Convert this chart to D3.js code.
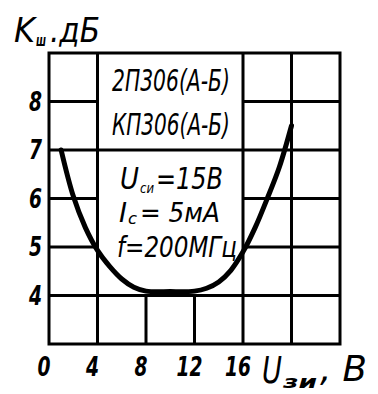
<!DOCTYPE html>
<html>
<head>
<meta charset="utf-8">
<script src="https://cdn.jsdelivr.net/npm/d3@7"></script>
<style>
  body { margin: 0; background: #fff; }
  text { font-family: "DejaVu Sans", sans-serif; font-style: italic; font-weight: bold; fill: #000; }
</style>
</head>
<body>
<div id="chart"></div>
<script>
// data
var xTicks = [0, 4, 8, 12, 16];
var yTicks = [4, 5, 6, 7, 8];
var curveU = [1, 2, 3, 4, 5, 6, 7, 8, 10, 12, 13, 14, 15, 16, 17, 18, 19, 20];
var curveK = [7.0, 6.05, 5.4, 4.93, 4.6, 4.34, 4.17, 4.09, 4.08, 4.09, 4.15, 4.28, 4.52, 4.9, 5.4, 6.0, 6.65, 7.5];
var boxLines = ["2П306(А-Б)", "КП306(А-Б)"];

var W = 378, H = 394;
var svg = d3.select("#chart").append("svg").attr("width", W).attr("height", H);

var x = d3.scaleLinear().domain([0, 24]).range([49, 340]);
var y = d3.scaleLinear().domain([3, 9]).range([344, 53]);

// grid: some lines stop at the white label box (U 4..16, K 4..9)
var grid = svg.append("g").attr("stroke", "#000").attr("stroke-width", 3);
var vSeg = [[4, 3, 9], [16, 3, 9], [20, 3, 9], [8, 3, 4], [12, 3, 4]];
vSeg.forEach(function (s) {
  grid.append("line").attr("x1", x(s[0])).attr("x2", x(s[0])).attr("y1", y(s[1])).attr("y2", y(s[2]));
});
var hSeg = [[4, 0, 24], [7, 0, 24], [5, 0, 4], [5, 16, 24], [6, 0, 4], [6, 16, 24], [8, 0, 4], [8, 16, 24]];
hSeg.forEach(function (s) {
  grid.append("line").attr("y1", y(s[0])).attr("y2", y(s[0])).attr("x1", x(s[1])).attr("x2", x(s[2]));
});
grid.append("rect")
  .attr("x", x(0)).attr("y", y(9))
  .attr("width", x(24) - x(0)).attr("height", y(3) - y(9))
  .attr("fill", "none");

// curve
var pts = curveU.map(function (u, i) { return [u, curveK[i]]; });
var line = d3.line().x(function (d) { return x(d[0]); }).y(function (d) { return y(d[1]); }).curve(d3.curveCatmullRom);
svg.append("path").datum(pts).attr("d", line)
  .attr("fill", "none").attr("stroke", "#000").attr("stroke-width", 5).attr("stroke-linecap", "round");

// text squeezed horizontally to a given width (hand lettering is narrow)
function piece(tx, ty, size, len, str, weight, anchor) {
  var t = svg.append("text")
    .style("font-size", size + "px").style("font-weight", weight || "normal")
    .attr("text-anchor", anchor || "start")
    .text(str);
  var w = t.node().getComputedTextLength();
  t.attr("transform", "translate(" + tx + "," + ty + ") scale(" + (len / w) + ",1)");
  return t;
}

// tick labels
yTicks.forEach(function (d) {
  piece(42, y(d) + 9, 26, 13, String(d), "bold", "end");
});
xTicks.forEach(function (d) {
  piece(x(d) - 5, 376, 26, String(d).length * 13, String(d), "bold", "middle");
});

// axis titles
piece(14, 42, 34, 21, "K");
piece(36, 46, 16, 10, "ш", "bold");
piece(50, 42, 34, 50, ".дБ");

piece(262, 383, 38, 20, "U");
piece(283, 388, 17, 34, "зи", "bold");
piece(320, 381, 36, 47, ", В");

// label box text
boxLines.forEach(function (s, i) {
  piece(112, 91 + i * 44, 31, 118, s);
});

piece(120, 189, 30, 19, "U");
piece(140, 193, 14, 14, "си");
piece(156, 189, 30, 67, "=15В");

piece(119, 222, 27, 8, "I");
piece(128, 224, 15, 9, "с");
piece(140, 222, 27, 80, "= 5мА");

piece(117, 257, 29, 120, "f=200МГц");
</script>
</body>
</html>
